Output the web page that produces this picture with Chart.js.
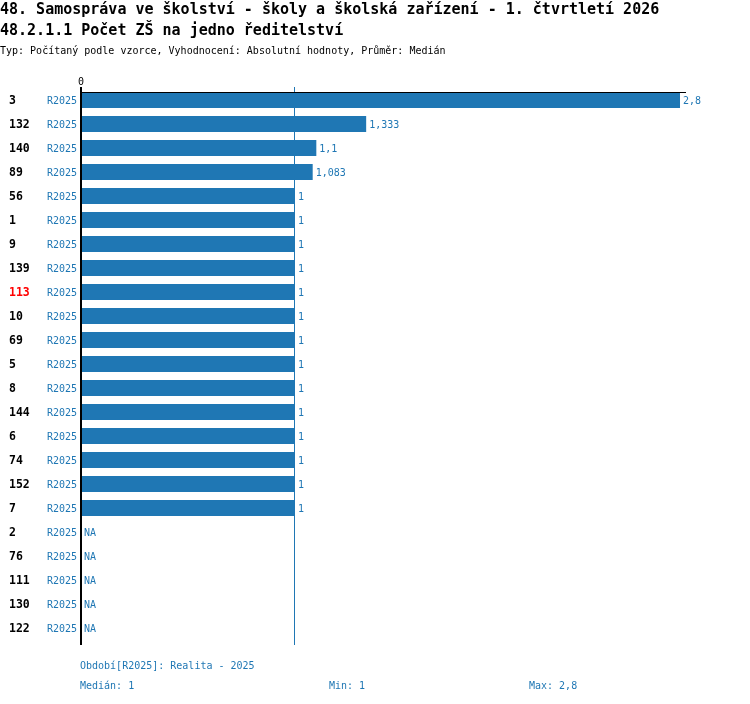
<!DOCTYPE html>
<html lang="cs">
<head>
<meta charset="utf-8">
<title>48.2.1.1 Počet ZŠ na jedno ředitelství</title>
<script src="https://cdn.jsdelivr.net/npm/chart.js@4.4.1/dist/chart.umd.min.js"></script>
<style>
  body { margin: 0; background: #fff; }
  #wrap { position: relative; width: 750px; height: 704px; overflow: hidden; font-family: "DejaVu Sans Mono", monospace; }
  #chart-canvas { position: absolute; left: 0; top: 0; }
  .txt { position: absolute; white-space: pre; }
  .title { font-size: 15px; line-height: 15px; font-weight: bold; color: #000; left: 0; }
  .sub { font-size: 10px; line-height: 10px; color: #000; left: 0; top: 46px; }
  .foot { font-size: 10px; line-height: 10px; color: #1f77b4; }
</style>
</head>
<body>
<div id="wrap">
  <canvas id="chart-canvas" width="750" height="704"></canvas>
  <div class="txt title" style="top:2px">48. Samospráva ve školství - školy a školská zařízení - 1. čtvrtletí 2026</div>
  <div class="txt title" style="top:23px">48.2.1.1 Počet ZŠ na jedno ředitelství</div>
  <div class="txt sub">Typ: Počítaný podle vzorce, Vyhodnocení: Absolutní hodnoty, Průměr: Medián</div>
  <div class="txt foot" id="foot-period" style="left:80px; top:661px"></div>
  <div class="txt foot" id="foot-median" style="left:80px; top:681px"></div>
  <div class="txt foot" id="foot-min" style="left:329px; top:681px"></div>
  <div class="txt foot" id="foot-max" style="left:529px; top:681px"></div>
</div>
<script>
// --- DATA ---
const categories = ['3', '132', '140', '89', '56', '1', '9', '139', '113', '10', '69', '5',
                    '8', '144', '6', '74', '152', '7', '2', '76', '111', '130', '122'];
const values = [2.8, 1.333, 1.1, 1.083, 1, 1, 1, 1, 1, 1, 1, 1,
                1, 1, 1, 1, 1, 1, null, null, null, null, null];
const highlighted = ['113'];
const periodCode = 'R2025';
const periodName = 'Realita - 2025';
const xTickValues = [0];

const blue = '#1f77b4';

// number format with decimal comma
function fmt(v) {
    return String(+v.toFixed(3)).replace('.', ',');
}

const present = values.filter(v => v != null).sort((a, b) => a - b);
const mid = Math.floor(present.length / 2);
const median = present.length % 2 ? present[mid] : (present[mid - 1] + present[mid]) / 2;
const minVal = present[0];
const maxVal = present[present.length - 1];

document.getElementById('foot-period').textContent = 'Období[' + periodCode + ']: ' + periodName;
document.getElementById('foot-median').textContent = 'Medián: ' + fmt(median);
document.getElementById('foot-min').textContent = 'Min: ' + fmt(minVal);
document.getElementById('foot-max').textContent = 'Max: ' + fmt(maxVal);

// axis lines, median line, row labels and value labels
const overlay = {
    id: 'overlay',
    beforeDatasetsDraw(chart) {
        const { ctx, chartArea: a, scales: { x } } = chart;
        const mx = Math.round(x.getPixelForValue(median)) - 0.5;
        ctx.save();
        ctx.strokeStyle = blue;
        ctx.lineWidth = 1;
        ctx.beginPath();
        ctx.moveTo(mx, a.top - 1);
        ctx.lineTo(mx, a.bottom + 5);
        ctx.stroke();
        ctx.restore();
    },
    afterDatasetsDraw(chart) {
        const { ctx, chartArea: a, scales: { x, y } } = chart;
        ctx.save();
        ctx.fillStyle = '#000';
        ctx.fillRect(a.left - 1, a.top - 1, 2, a.bottom - a.top + 6);
        ctx.fillRect(a.left, a.top + 4, a.right - a.left, 1);

        ctx.textBaseline = 'middle';
        categories.forEach((c, i) => {
            const py = y.getPixelForValue(i) + 1.5;
            // row number
            ctx.font = 'bold 11.5px "DejaVu Sans Mono"';
            ctx.textAlign = 'left';
            ctx.fillStyle = highlighted.includes(c) ? '#ff0000' : '#000';
            ctx.fillText(c, 9, py);
            // period code and value
            ctx.font = '10px "DejaVu Sans Mono"';
            ctx.fillStyle = blue;
            ctx.textAlign = 'right';
            ctx.fillText(periodCode, a.left - 4, py);
            ctx.textAlign = 'left';
            const v = values[i];
            const end = v == null ? a.left : x.getPixelForValue(v);
            ctx.fillText(v == null ? 'NA' : fmt(v), end + 3, py);
        });
        ctx.restore();
    }
};

const ctx = document.getElementById('chart-canvas').getContext('2d');
new Chart(ctx, {
    type: 'bar',
    data: {
        labels: categories,
        datasets: [{
            data: values,
            backgroundColor: blue,
            borderWidth: 0,
            categoryPercentage: 1,
            barPercentage: 16 / 24
        }]
    },
    options: {
        indexAxis: 'y',
        responsive: false,
        animation: false,
        devicePixelRatio: 1,
        layout: { padding: { left: 9, top: 68, right: 64, bottom: 64 } },
        plugins: { legend: { display: false }, tooltip: { enabled: false } },
        scales: {
            x: {
                type: 'linear',
                position: 'top',
                min: 0,
                max: maxVal * 1.01,
                afterBuildTicks: s => { s.ticks = xTickValues.map(v => ({ value: v })); },
                afterFit: s => { s.height = 20; },
                grid: { display: false, drawTicks: false },
                border: { display: false },
                ticks: {
                    padding: 0,
                    color: '#000',
                    font: { family: 'DejaVu Sans Mono', size: 10 },
                    callback: v => String(v)
                }
            },
            y: {
                afterFit: s => { s.width = 72; },
                grid: { display: false, drawTicks: false },
                border: { display: false },
                ticks: { display: false }
            }
        }
    },
    plugins: [overlay]
});
</script>
</body>
</html>
